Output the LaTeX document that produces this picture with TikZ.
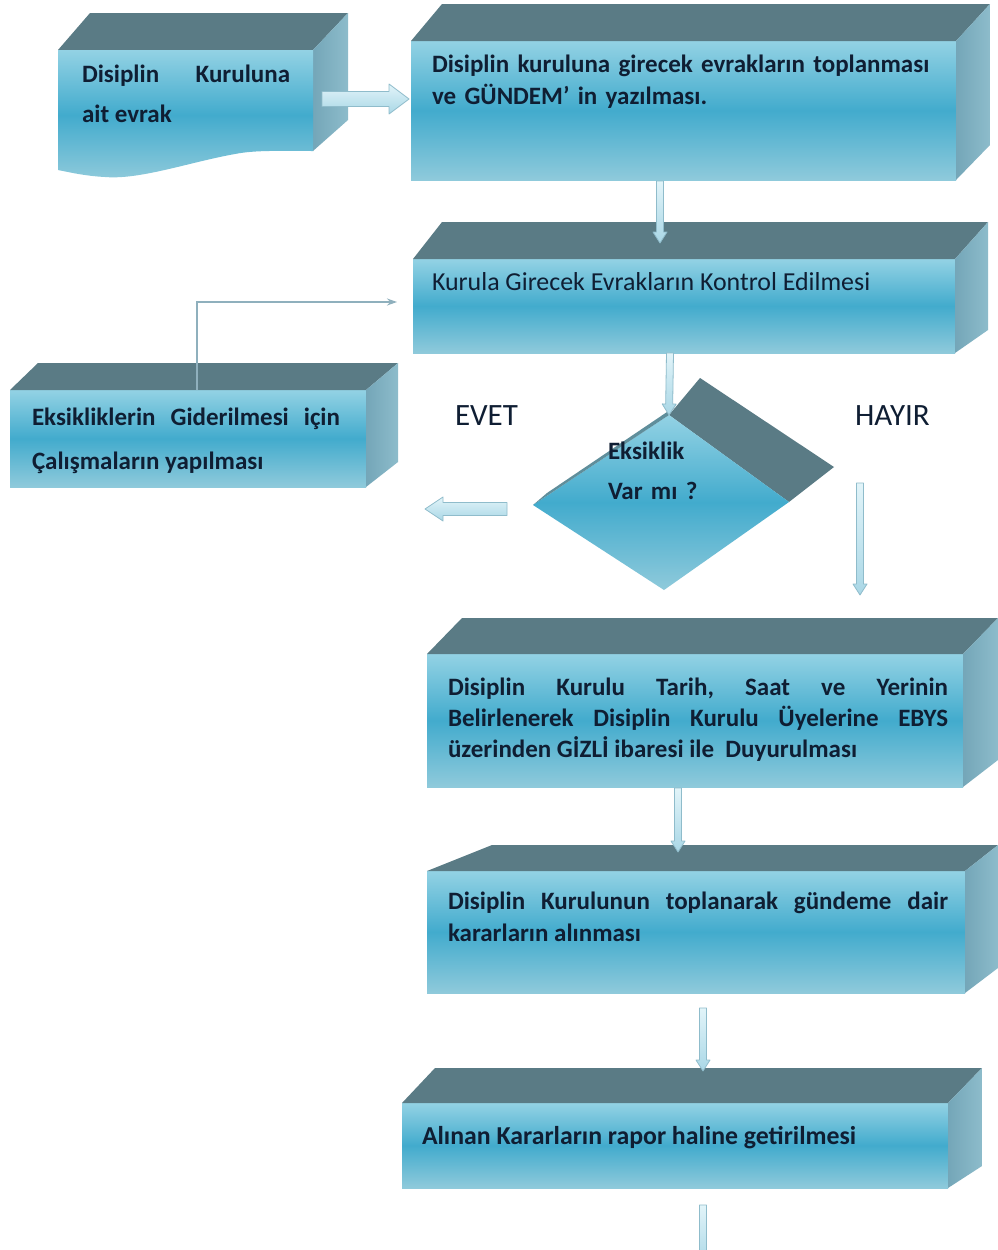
\documentclass[tikz,border=0pt]{standalone}
\usepackage{fontspec}
\setmainfont{Carlito}
\usetikzlibrary{calc,arrows.meta}
\frenchspacing
\definecolor{topc}{HTML}{5A7B85}
\definecolor{stripc}{HTML}{5F8E9B}
\definecolor{ftop}{HTML}{93D2E4}
\definecolor{fmid}{HTML}{42ABCD}
\definecolor{fbot}{HTML}{8FCADB}
\definecolor{sidel}{HTML}{74A6B8}
\definecolor{sider}{HTML}{8DBCCB}
\definecolor{txtc}{HTML}{0F1E33}
\definecolor{arredge}{HTML}{8FBCCB}
\definecolor{arrtop}{HTML}{E2F4F9}
\definecolor{arrbot}{HTML}{A9D7E6}
\definecolor{fbc}{HTML}{8FB0BD}
\tikzset{
  front/.style={inner sep=0pt, outer sep=0pt, top color=ftop, bottom color=fbot, middle color=fmid, anchor=north west},
  topface/.style={fill=topc},
  sideface/.style={left color=sidel, right color=sider},
  txt/.style={inner sep=0pt, outer sep=0pt, anchor=north west, text=txtc},
  jtxt/.style={txt, align=justify},
  blockarr/.style={draw=arredge, line width=0.8pt, top color=arrtop, bottom color=arrbot, line join=round},
  fb/.style={draw=fbc, line width=1.6pt},
}
\newcommand\boxthreed[9]{%
  \node[front, minimum width={(#4-#2)*1pt}, minimum height={(#5-#3)*1pt}] (#1) at (#2,#3) {};
  \fill[topface] (#1.north west) -- (#6,#8) -- (#7,#8) -- (#1.north east) -- cycle;
  \shade[sideface] (#1.north east) -- (#7,#8) -- (#7,#9) -- (#1.south east) -- cycle;
}
\newcommand\barrow[5]{%
  \coordinate (bahd) at ($(#2)!#5!(#1)$);
  \path[blockarr] ($(#1)!#3!90:(#2)$) -- ($(bahd)!#3!90:(#2)$) -- ($(bahd)!#4!90:(#2)$) -- (#2)
    -- ($(bahd)!#4!-90:(#2)$) -- ($(bahd)!#3!-90:(#2)$) -- ($(#1)!#3!-90:(#2)$) -- cycle;
}
\newcommand\fsa{\bfseries\fontsize{25}{32}\selectfont\hyphenpenalty=10000\exhyphenpenalty=10000}
\begin{document}
\begin{tikzpicture}[x=1pt,y=-1pt]
\useasboundingbox[fill=white] (0,0) rectangle (998,1250);

% Box 1 (document shape)
\node[inner sep=0pt, outer sep=0pt, minimum width=255pt, minimum height=101pt, anchor=north west] (b1) at (58,50) {};
\fill[topface] (b1.north west) -- (90,13) -- (348,13) -- (b1.north east) -- cycle;
\shade[sideface] (b1.north east) -- (348,13) -- (348,120) -- (313,151) -- cycle;
\shade[top color=ftop, bottom color=fbot, middle color=fmid] (b1.north west) -- (b1.north east) -- (313,151)
  .. controls (280,151) and (255,150) .. (235,154)
  .. controls (190,162) and (140,180) .. (105,177)
  .. controls (85,176) and (68,172) .. (58,170) -- cycle;

% Boxes
\boxthreed{b2}{411}{41}{956}{180}{442}{990}{4}{145}
\boxthreed{b3}{413}{259}{955}{353}{442}{988}{222}{330}
\boxthreed{b4}{10}{390}{366}{487}{38}{398}{363}{462}
\boxthreed{b5}{427}{654}{963}{787}{462}{998}{618}{760}
\boxthreed{b6}{427}{871}{965}{993}{492}{998}{845}{968}
\boxthreed{b7}{402}{1103}{948}{1188}{435}{982}{1068}{1166}

% Diamond
\coordinate (dT) at (669,415);
\coordinate (dL) at (533,505);
\coordinate (dB) at (664,590);
\coordinate (dR) at (789,502);
\coordinate (dTb) at (700,378);
\coordinate (dRb) at (834,467);
\fill[topface] (dT) -- (dTb) -- (dRb) -- (dR) -- cycle;
\shade[top color=ftop, bottom color=fbot, middle color=fmid] (dL) -- (dT) -- (dR) -- (dB) -- cycle;
\fill[stripc] (dL) -- (dT) -- ($(dT)+(1,-5)$) -- ($(dL)+(14,-12)$) -- cycle;

% Texts
\node[jtxt, text width=208pt, font=\fsa\fontsize{25}{40}\selectfont] (t1) at (82,54)
  {\strut Disiplin Kuruluna\linebreak ait evrak};
\node[txt, text width=540pt, align=left, font=\fsa] (t2) at (432,49.6)
  {\strut Disiplin kuruluna girecek evrakların toplanması\\ve GÜNDEM’ in yazılması.};
\node[txt, anchor=base west, font=\fontsize{25.9}{32}\selectfont] (t3) at (432,290)
  {Kurula Girecek Evrakların Kontrol Edilmesi};
\node[jtxt, text width=308pt, font=\fsa\fontsize{25}{44}\selectfont] (t4) at (32,394.2)
  {\strut Eksikliklerin Giderilmesi için\linebreak Çalışmaların yapılması};
\node[jtxt, text width=500pt, font=\fsa\fontsize{25}{31}\selectfont] (t5) at (448,673.3)
  {\strut Disiplin Kurulu Tarih, Saat ve Yerinin\linebreak Belirlenerek Disiplin Kurulu Üyelerine EBYS\linebreak üzerinden GİZLİ ibaresi ile\ \ Duyurulması};
\node[jtxt, text width=500pt, font=\fsa] (t6) at (448,886.6)
  {\strut Disiplin Kurulunun toplanarak gündeme dair\linebreak kararların alınması};
\node[txt, anchor=base west, font=\fsa\fontsize{25.8}{32}\selectfont] (t7) at (422,1144)
  {Alınan Kararların rapor haline getirilmesi};
\node[txt, text width=110pt, align=left, font=\fsa\fontsize{25}{40}\selectfont] (dtx) at (608,431)
  {\strut Eksiklik\\Var mı ?};
\node[txt, anchor=base west, font=\fontsize{31}{36}\selectfont] (evet) at (455,425) {EVET};
\node[txt, anchor=base west, font=\fontsize{31}{36}\selectfont] (hayir) at (855,425) {HAYIR};

% Feedback connector
\coordinate (fbs) at ($(b4.north west)+(187,0)$);
\coordinate (fbe) at (397,302);
\draw[fb, -{Stealth[length=10pt,width=7pt]}] (fbs) |- (fbe);

% Block arrows
\coordinate (a1s) at (322,99);
\coordinate (a1e) at (409,99);
\barrow{a1s}{a1e}{7.5pt}{15pt}{20pt}
\coordinate (yes1) at (507,509);
\coordinate (yes2) at (425,509);
\barrow{yes1}{yes2}{6.5pt}{12pt}{18pt}

% Thin arrows
\coordinate (a2s) at (660,181);
\coordinate (a2e) at (660,243);
\barrow{a2s}{a2e}{3.5pt}{7pt}{11pt}
\coordinate (a3s) at (670,353);
\barrow{a3s}{dT}{3.5pt}{7pt}{11pt}
\coordinate (a4s) at (860,483);
\coordinate (a4e) at (860,595);
\barrow{a4s}{a4e}{3.5pt}{7pt}{11pt}
\coordinate (a5s) at (678,788);
\coordinate (a5e) at (678,852);
\barrow{a5s}{a5e}{3.5pt}{7pt}{11pt}
\coordinate (a6s) at (703,1008);
\coordinate (a6e) at (703,1071);
\barrow{a6s}{a6e}{3.5pt}{7pt}{11pt}
\coordinate (a7s) at (703,1205);
\coordinate (a7e) at (703,1266);
\barrow{a7s}{a7e}{3.5pt}{7pt}{11pt}
\end{tikzpicture}
\end{document}
